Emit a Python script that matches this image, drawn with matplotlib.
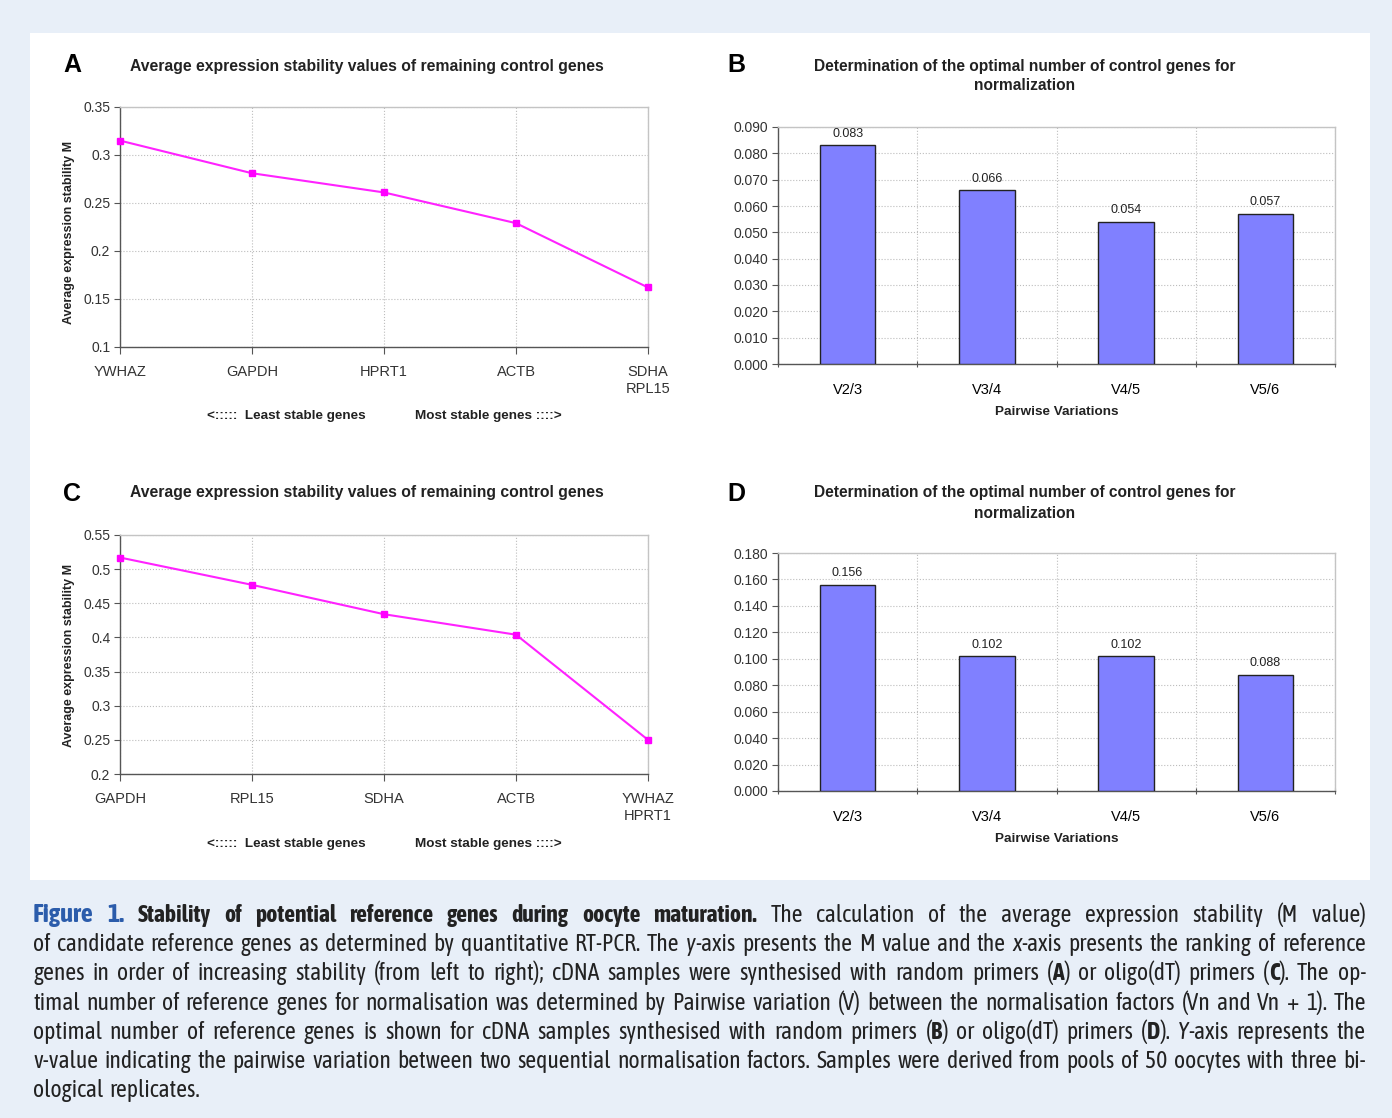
import numpy as np
import matplotlib
matplotlib.use('Agg')
import matplotlib.pyplot as plt
from matplotlib.patches import Rectangle
from matplotlib import font_manager

# Data
genes_a = ['YWHAZ', 'GAPDH', 'HPRT1', 'ACTB', 'SDHA\nRPL15']
m_a = [0.315, 0.281, 0.261, 0.229, 0.162]
genes_c = ['GAPDH', 'RPL15', 'SDHA', 'ACTB', 'YWHAZ\nHPRT1']
m_c = [0.517, 0.477, 0.434, 0.404, 0.250]
pairs = ['V2/3', 'V3/4', 'V4/5', 'V5/6']
v_b = [0.083, 0.066, 0.054, 0.057]
v_d = [0.156, 0.102, 0.102, 0.088]

W, H = 1392, 1118
plt.rcParams['font.family'] = ['Liberation Sans', 'DejaVu Sans']

fig = plt.figure(figsize=(W / 100, H / 100), dpi=100)
fig.patch.set_facecolor('#e8eff8')
fig.add_artist(Rectangle((30 / W, 1 - 880 / H), 1340 / W, 847 / H,
                         transform=fig.transFigure, facecolor='white',
                         edgecolor='none', zorder=0))


def px(x, y):
    return x / W, 1 - y / H


def axes_px(left, top, right, bottom):
    return fig.add_axes([left / W, 1 - bottom / H, (right - left) / W, (bottom - top) / H])


def style_axes(ax):
    for s in ['top', 'right']:
        ax.spines[s].set_color('#c4c4c4')
    for s in ['left', 'bottom']:
        ax.spines[s].set_color('#555555')
    for s in ax.spines.values():
        s.set_linewidth(1)
    ax.tick_params(colors='#555555', labelcolor='#333333')


def line_panel(ax, labels, vals, lo, hi, step):
    x = np.arange(len(vals))
    ax.plot(x, vals, color='#ff22ff', lw=1.5, marker='s', ms=5,
            mfc='#ff00ff', mec='#ff00ff', clip_on=False, zorder=3)
    ax.set_xlim(0, len(vals) - 1)
    ax.set_ylim(lo, hi)
    ticks = np.round(np.arange(lo, hi + step / 2, step), 3)
    ax.set_yticks(ticks)
    ax.set_yticklabels([f'{t:g}' for t in ticks], fontsize=10)
    ax.set_xticks(x)
    ax.set_xticklabels(labels, fontsize=10.5, linespacing=1.25, va='top')
    ax.grid(True, ls=':', color='#bdbdbd', lw=0.8)
    style_axes(ax)
    ax.tick_params(axis='x', length=5, pad=8)
    ax.tick_params(axis='y', length=4, pad=3)


def bar_panel(ax, labels, vals, top, step):
    x = np.arange(len(vals))
    ax.bar(x, vals, width=0.4, color='#8080ff', edgecolor='#222222', lw=1, zorder=3)
    for i, v in zip(x, vals):
        ax.annotate(f'{v:.3f}', (i, v), xytext=(0, 4), textcoords='offset points',
                    ha='center', va='bottom', fontsize=9, color='#222222')
    ax.set_xlim(-0.5, len(vals) - 0.5)
    ax.set_ylim(0, top)
    ticks = np.round(np.arange(0, top + step / 2, step), 3)
    ax.set_yticks(ticks)
    ax.set_yticklabels([f'{t:.3f}' for t in ticks], fontsize=10)
    ax.set_xticks(np.arange(-0.5, len(vals), 1.0))
    ax.set_xticklabels([])
    ax.set_xticks(x, minor=True)
    ax.set_xticklabels(labels, minor=True, fontsize=10.5)
    ax.tick_params(axis='x', which='minor', length=0, pad=14)
    ax.tick_params(axis='x', which='major', length=5, direction='inout')
    ax.grid(True, ls=':', color='#bdbdbd', lw=0.8)
    style_axes(ax)
    ax.tick_params(axis='y', length=4, pad=3)


ax_a = axes_px(120, 107, 648, 347)
line_panel(ax_a, genes_a, m_a, 0.1, 0.35, 0.05)
ax_c = axes_px(120, 535, 648, 774)
line_panel(ax_c, genes_c, m_c, 0.2, 0.55, 0.05)
ax_b = axes_px(778, 127, 1335, 364)
bar_panel(ax_b, pairs, v_b, 0.09, 0.01)
ax_d = axes_px(778, 553, 1335, 791)
bar_panel(ax_d, pairs, v_d, 0.18, 0.02)

# Panel letters and titles
for letter, (x, y) in zip('ABCD', [(72, 65), (736, 65), (72, 494), (736, 494)]):
    fig.text(*px(x, y), letter, fontsize=18, fontweight='bold', ha='center', va='center')

for y in [66, 493]:
    fig.text(*px(367, y), 'Average expression stability values of remaining control genes',
             fontsize=11.3, fontweight='bold', ha='center', va='center', color='#222222')
for y in [66, 493]:
    fig.text(*px(1025, y), 'Determination of the optimal number of control genes for',
             fontsize=11.2, fontweight='bold', ha='center', va='center', color='#222222')
    fig.text(*px(1025, y + 20), 'normalization',
             fontsize=11.2, fontweight='bold', ha='center', va='center', color='#222222')

for y in [232, 655]:
    fig.text(*px(69, y), 'Average expression stability M', rotation=90,
             fontsize=9, fontweight='bold', ha='center', va='center', color='#222222')

for y in [416, 844]:
    fig.text(*px(286, y), '<:::::  Least stable genes', fontsize=9.7, fontweight='bold',
             ha='center', va='center', color='#222222')
    fig.text(*px(488, y), 'Most stable genes ::::>', fontsize=9.7, fontweight='bold',
             ha='center', va='center', color='#222222')

for y in [412, 839]:
    fig.text(*px(1057, y), 'Pairwise Variations', fontsize=9.7, fontweight='bold',
             ha='center', va='center', color='#222222')

# Caption: a condensed face with regular and bold weights if one is installed
weights = {}
for f in font_manager.fontManager.ttflist:
    key = (f.name, f.stretch if f.stretch in ('condensed', 'semi-condensed') else
           ('condensed' if ('Narrow' in f.name or 'Condensed' in f.name) else 'normal'))
    w = f.weight if isinstance(f.weight, int) else (700 if 'bold' in str(f.weight) else 400)
    weights.setdefault(key, set()).add(w)

cap_font, cap_stretch = 'Liberation Sans', 'normal'
for (name, stretch), ws in sorted(weights.items()):
    if stretch != 'normal' and 400 in ws and any(w >= 600 for w in ws):
        cap_font = name
        cap_stretch = stretch if name in ('DejaVu Sans', 'Open Sans', 'Noto Sans') else 'normal'
        break

caption = [
    [('Figure 1.', 'f'), (' Stability of potential reference genes during oocyte maturation.', 'b'),
     (' The calculation of the average expression stability (M value)', 'n')],
    [('of candidate reference genes as determined by quantitative RT-PCR. The ', 'n'), ('y', 'i'),
     ('-axis presents the M value and the ', 'n'), ('x', 'i'),
     ('-axis presents the ranking of reference', 'n')],
    [('genes in order of increasing stability (from left to right); cDNA samples were synthesised '
      'with random primers (', 'n'), ('A', 'b'), (') or oligo(dT) primers (', 'n'), ('C', 'b'),
     ('). The op-', 'n')],
    [('timal number of reference genes for normalisation was determined by Pairwise variation (V) '
      'between the normalisation factors (Vn and Vn + 1). The', 'n')],
    [('optimal number of reference genes is shown for cDNA samples synthesised with random primers (', 'n'),
     ('B', 'b'), (') or oligo(dT) primers (', 'n'), ('D', 'b'), ('). ', 'n'), ('Y', 'i'),
     ('-axis represents the', 'n')],
    [('v-value indicating the pairwise variation between two sequential normalisation factors. '
      'Samples were derived from pools of 50 oocytes with three bi-', 'n')],
    [('ological replicates.', 'n')],
]


def style_kw(style, size):
    kw = dict(fontsize=size, family=[cap_font, 'DejaVu Sans'], fontstretch=cap_stretch,
              fontweight='normal', color='#222222', va='baseline', ha='left')
    if style == 'b':
        kw['fontweight'] = 'bold'
    elif style == 'f':
        kw['fontweight'] = 'bold'
        kw['color'] = '#2b5cab'
        kw['fontsize'] = size * 1.12
    elif style == 'i':
        kw['fontstyle'] = 'italic'
    return kw


def split_words(runs):
    words = [[]]
    for text, style in runs:
        parts = text.split(' ')
        for i, p in enumerate(parts):
            if i > 0:
                words.append([])
            if p:
                words[-1].append((p, style))
    return [w for w in words if w]


renderer = fig.canvas.get_renderer()
x0, x1 = 33, 1366


def measure(words, size):
    items = []
    for w in words:
        pieces = []
        for txt, style in w:
            t = fig.text(0, 0, txt, **style_kw(style, size))
            pieces.append((t, t.get_window_extent(renderer).width))
        items.append(pieces)
    return items


# pick a size so the widest justified line fits
base = 10
nat = 0
for runs in caption[:-1]:
    items = measure(split_words(runs), base)
    w = sum(w for p in items for _, w in p) + 0.25 * base * 100 / 72 * (len(items) - 1)
    nat = max(nat, w)
    for p in items:
        for t, _ in p:
            t.remove()
cap_size = min(17, base * (x1 - x0) / nat)

space_w = 0.25 * cap_size * 100 / 72
for k, runs in enumerate(caption):
    y = 922 + 29.2 * k
    items = measure(split_words(runs), cap_size)
    total = sum(w for p in items for _, w in p)
    if k < len(caption) - 1 and len(items) > 1:
        gap = (x1 - x0 - total) / (len(items) - 1)
    else:
        gap = space_w
    x = x0
    for pieces in items:
        for t, w in pieces:
            t.set_position(px(x, y))
            x += w
        x += gap

fig.savefig('out.png', dpi=100, facecolor=fig.get_facecolor())
